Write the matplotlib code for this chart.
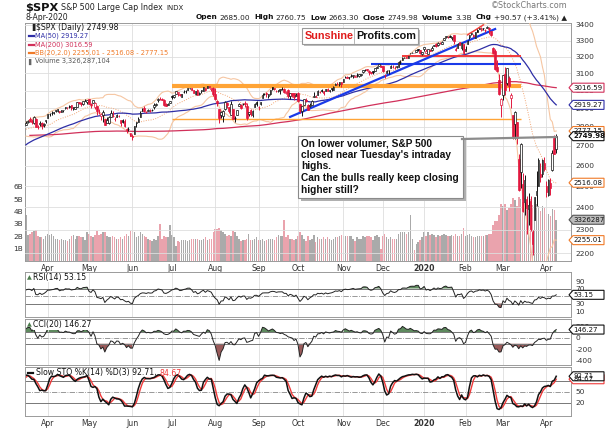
import numpy as np
import pandas as pd
import matplotlib
matplotlib.use("Agg")
import matplotlib.pyplot as plt
from matplotlib.patches import Polygon, Rectangle
from matplotlib.lines import Line2D
from matplotlib.ticker import NullLocator

plt.rcParams['font.family'] = ['DejaVu Sans']
W, H = 605, 428

# ---------------- data ----------------
holidays = ["2018-07-04", "2018-09-03", "2018-11-22", "2018-12-05", "2018-12-25",
            "2019-01-01", "2019-01-21", "2019-02-18", "2019-04-19", "2019-05-27",
            "2019-07-04", "2019-09-02", "2019-11-28", "2019-12-25", "2020-01-01",
            "2020-01-20", "2020-02-17"]
first_visible = "2019-03-15"

# daily closes (history needed for MA200 + visible window)
closes = [
    # Jun 2018
    2734.62, 2746.87, 2748.80, 2772.35, 2770.37, 2779.03, 2782.00, 2786.85, 2775.63, 2782.49, 2779.66,
    2773.75, 2762.59, 2767.32, 2749.76, 2754.88, 2717.07, 2723.06, 2699.63, 2716.31, 2718.37,
    # Jul 2018
    2726.71, 2713.22, 2736.61, 2759.82, 2784.17, 2793.84, 2774.02, 2798.29, 2801.31, 2798.43, 2809.55,
    2815.62, 2804.49, 2801.83, 2806.98, 2820.40, 2846.07, 2837.44, 2818.82, 2802.60, 2816.29,
    # Aug 2018
    2813.36, 2827.22, 2840.35, 2850.40, 2858.45, 2857.70, 2853.58, 2833.28, 2821.93, 2839.96, 2818.37,
    2840.69, 2850.13, 2857.05, 2862.96, 2861.82, 2856.98, 2874.69, 2896.74, 2897.52, 2914.04, 2901.13, 2901.52,
    # Sep 2018
    2896.72, 2888.60, 2878.05, 2871.68, 2877.13, 2887.89, 2888.92, 2904.18, 2904.98, 2888.80, 2904.31,
    2907.95, 2930.75, 2929.67, 2919.37, 2915.56, 2905.97, 2914.00, 2913.98,
    # Oct 2018
    2924.59, 2923.43, 2925.51, 2901.61, 2885.57, 2884.43, 2880.34, 2785.68, 2728.37, 2767.13, 2750.79,
    2809.92, 2809.21, 2768.78, 2767.78, 2755.88, 2740.69, 2656.10, 2705.57, 2658.69, 2641.25, 2682.63, 2711.74,
    # Nov 2018
    2740.37, 2723.06, 2738.31, 2755.45, 2813.89, 2806.83, 2781.01, 2726.22, 2722.18, 2701.58, 2730.20,
    2736.27, 2690.73, 2641.89, 2649.93, 2632.56, 2673.45, 2682.17, 2743.79, 2737.80, 2760.17,
    # Dec 2018
    2790.37, 2700.06, 2695.95, 2633.08, 2637.72, 2636.78, 2651.07, 2650.54, 2599.95, 2545.94, 2546.16,
    2506.96, 2467.42, 2416.62, 2351.10, 2467.70, 2488.83, 2485.74, 2506.85,
    # Jan 2019
    2510.03, 2447.89, 2531.94, 2549.69, 2574.41, 2584.96, 2596.64, 2596.26, 2582.61, 2610.30, 2616.10,
    2635.96, 2670.71, 2632.90, 2638.70, 2642.33, 2664.76, 2643.85, 2640.00, 2681.05, 2704.10,
    # Feb 2019
    2706.53, 2724.87, 2737.70, 2731.61, 2706.05, 2707.88, 2709.80, 2744.73, 2753.03, 2745.73, 2775.60,
    2779.76, 2784.70, 2774.88, 2792.67, 2796.11, 2793.90, 2792.38, 2784.49,
    # Mar 2019
    2803.69, 2792.81, 2789.65, 2771.45, 2748.93, 2743.07, 2783.30, 2791.52, 2810.92, 2808.48,
    2822.48, 2832.94, 2832.57, 2824.23, 2854.88, 2800.71, 2798.36, 2818.46, 2805.37, 2815.44, 2834.40,
    # Apr 2019
    2867.19, 2867.24, 2873.40, 2879.39, 2892.74, 2895.77, 2878.20, 2888.21, 2888.32, 2907.41, 2905.58,
    2907.06, 2900.45, 2905.03, 2907.97, 2933.68, 2927.25, 2926.17, 2939.88, 2943.03, 2945.83,
    # May 2019
    2923.73, 2917.52, 2945.64, 2932.47, 2884.05, 2879.42, 2870.72, 2881.40, 2811.87, 2834.41, 2850.96,
    2876.32, 2859.53, 2840.23, 2864.36, 2856.27, 2822.24, 2826.06, 2802.39, 2783.02, 2788.86, 2752.06,
    # Jun 2019
    2744.45, 2803.27, 2826.15, 2843.49, 2873.34, 2886.73, 2885.72, 2879.84, 2891.64, 2886.98, 2889.67,
    2917.75, 2926.46, 2954.18, 2950.46, 2945.35, 2917.38, 2913.78, 2924.92, 2941.76,
    # Jul 2019
    2964.33, 2973.01, 2995.82, 2990.41, 2975.95, 2979.63, 2993.07, 2999.91, 3013.77, 3014.30, 3004.04,
    2984.42, 2995.11, 2976.61, 2985.03, 3005.47, 3019.56, 3003.67, 3025.86, 3020.97, 3013.18, 2980.38,
    # Aug 2019
    2953.56, 2932.05, 2844.74, 2881.77, 2883.98, 2938.09, 2918.65, 2882.70, 2926.32, 2840.60, 2847.60,
    2888.68, 2923.65, 2900.51, 2924.43, 2922.95, 2847.11, 2878.38, 2869.16, 2887.94, 2924.58, 2926.46,
    # Sep 2019
    2906.27, 2937.78, 2976.00, 2978.71, 2978.43, 2979.39, 3000.93, 3009.57, 3007.39, 2997.96, 3005.70,
    3006.73, 3006.79, 2992.07, 2991.78, 2966.60, 2984.87, 2977.62, 2961.79, 2976.74,
    # Oct 2019
    2940.25, 2887.61, 2910.63, 2952.01, 2938.79, 2893.06, 2919.40, 2938.13, 2970.27, 2966.15, 2995.68,
    2989.69, 2997.95, 2986.20, 3006.72, 2995.99, 3004.52, 3010.29, 3022.55, 3039.42, 3036.89, 3046.77, 3037.56,
    # Nov 2019
    3066.91, 3078.27, 3074.62, 3076.78, 3085.18, 3093.08, 3087.01, 3091.84, 3094.04, 3096.63, 3120.46,
    3122.03, 3120.18, 3108.46, 3103.54, 3110.29, 3133.64, 3140.52, 3153.63, 3140.98,
    # Dec 2019
    3113.87, 3093.20, 3112.76, 3117.43, 3145.91, 3135.96, 3132.52, 3141.63, 3168.57, 3168.80, 3191.45,
    3192.52, 3191.14, 3205.37, 3221.22, 3224.01, 3223.38, 3239.91, 3240.02, 3221.29, 3230.78,
    # Jan 2020
    3257.85, 3234.85, 3246.28, 3237.18, 3253.05, 3274.70, 3265.35, 3288.13, 3283.15, 3289.29, 3316.81,
    3329.62, 3320.79, 3321.75, 3325.54, 3295.47, 3243.63, 3276.24, 3273.40, 3283.66, 3225.52,
    # Feb 2020
    3248.92, 3297.59, 3334.69, 3345.78, 3327.71, 3352.09, 3357.75, 3379.45, 3373.94, 3380.16, 3370.29,
    3386.15, 3373.23, 3337.75, 3225.89, 3128.21, 3116.39, 2978.76, 2954.22,
    # Mar 2020
    3090.23, 3003.37, 3130.12, 3023.94, 2972.37, 2746.56, 2882.23, 2741.38, 2480.64, 2711.02, 2386.13,
    2529.19, 2398.10, 2409.39, 2304.92, 2237.40, 2447.33, 2475.56, 2630.07, 2541.47, 2626.65, 2584.59,
    # Apr 2020
    2470.50, 2526.90, 2488.65, 2663.68, 2659.41, 2749.98,
]

# visible window (2019-03-15 .. 2020-04-08): open / high / low
opens = [
    2810, 2823, 2841, 2831, 2819, 2844, 2797, 2812, 2819, 2809, 2829,
    2849, 2869, 2877, 2873, 2884, 2888, 2886, 2881, 2891, 2900, 2908, 2912, 2916, 2904, 2898, 2910, 2934, 2928, 2925, 2940, 2938,
    2952, 2922, 2929, 2909, 2913, 2880, 2859, 2863, 2841, 2820, 2820, 2855, 2858, 2841, 2855, 2856, 2837, 2835, 2830, 2790, 2786, 2766,
    2752, 2763, 2818, 2828, 2852, 2885, 2903, 2882, 2886, 2886, 2889, 2906, 2920, 2949, 2952, 2951, 2949, 2926, 2919, 2932,
    2971, 2965, 2978, 2984, 2980, 2966, 2990, 2999, 3003, 3017, 3012, 3006, 2978, 3005, 2982, 2995, 2999, 3016, 3013, 3025, 3007, 3016,
    2981, 2943, 2898, 2862, 2858, 2897, 2930, 2907, 2865, 2895, 2846, 2865, 2913, 2919, 2922, 2931, 2912, 2867, 2893, 2862, 2910, 2938,
    2909, 2925, 2960, 2980, 2989, 2971, 2982, 3019, 3013, 2997, 2996, 3001, 3010, 3009, 2984, 3002, 2969, 2986, 2985, 2968,
    2984, 2925, 2885, 2918, 2945, 2920, 2911, 2918, 2964, 2966, 2973, 2990, 3001, 2996, 2997, 3011, 2995, 3015, 3004, 3033, 3036, 3039, 3047,
    3050, 3078, 3080, 3076, 3087, 3082, 3081, 3089, 3084, 3091, 3107, 3118, 3128, 3114, 3108, 3112, 3117, 3134, 3145, 3147,
    3143, 3088, 3103, 3120, 3134, 3141, 3135, 3136, 3141, 3167, 3183, 3195, 3196, 3193, 3223, 3226, 3225, 3227, 3248, 3240, 3215,
    3245, 3226, 3218, 3242, 3239, 3267, 3281, 3271, 3285, 3282, 3303, 3324, 3321, 3331, 3315, 3334, 3248, 3256, 3289, 3256, 3282,
    3236, 3281, 3325, 3344, 3335, 3319, 3366, 3371, 3365, 3378, 3370, 3381, 3380, 3360, 3257, 3238, 3139, 3063, 2916,
    2974, 3096, 3045, 3075, 2955, 2864, 2813, 2825, 2631, 2569, 2509, 2425, 2437, 2394, 2431, 2290, 2345, 2458, 2501, 2556, 2558, 2614,
    2499, 2458, 2515, 2579, 2738, 2685,
]
highs = [
    2830, 2835, 2852, 2843, 2860, 2846, 2809, 2829, 2826, 2820, 2836,
    2869, 2872, 2886, 2881, 2893, 2896, 2886, 2889, 2893, 2910, 2909, 2917, 2921, 2908, 2910, 2936, 2936, 2933, 2940, 2950, 2948,
    2954, 2932, 2948, 2938, 2913, 2898, 2875, 2892, 2841, 2852, 2858, 2892, 2885, 2853, 2868, 2865, 2837, 2841, 2841, 2792, 2800, 2768,
    2763, 2804, 2828, 2852, 2885, 2904, 2911, 2888, 2896, 2894, 2897, 2931, 2930, 2958, 2964, 2955, 2950, 2932, 2929, 2943,
    2977, 2974, 2996, 2994, 2981, 2981, 3002, 3003, 3014, 3017, 3015, 3006, 2996, 3007, 2990, 3005, 3019, 3016, 3028, 3027, 3017, 3018,
    3013, 2945, 2898, 2885, 2892, 2939, 2935, 2907, 2943, 2895, 2856, 2893, 2931, 2923, 2928, 2939, 2928, 2879, 2898, 2891, 2930, 2941,
    2915, 2938, 2985, 2985, 2990, 2980, 3001, 3022, 3017, 3002, 3006, 3008, 3022, 3016, 2999, 3008, 2989, 2987, 2987, 2984,
    2993, 2925, 2911, 2953, 2959, 2925, 2929, 2949, 2993, 2972, 3003, 2998, 3008, 3000, 3007, 3015, 3005, 3016, 3027, 3044, 3048, 3050, 3047,
    3067, 3085, 3084, 3079, 3098, 3093, 3088, 3103, 3098, 3098, 3121, 3125, 3128, 3119, 3110, 3112, 3134, 3142, 3154, 3151,
    3145, 3095, 3120, 3120, 3150, 3148, 3143, 3143, 3177, 3182, 3198, 3198, 3199, 3206, 3226, 3227, 3226, 3240, 3248, 3241, 3232,
    3258, 3247, 3247, 3245, 3268, 3275, 3283, 3289, 3294, 3299, 3317, 3330, 3329, 3337, 3326, 3334, 3259, 3285, 3293, 3285, 3282,
    3268, 3306, 3337, 3348, 3342, 3353, 3376, 3382, 3385, 3381, 3375, 3393, 3389, 3360, 3260, 3246, 3182, 3098, 2959,
    3091, 3137, 3131, 3084, 2985, 2864, 2883, 2825, 2660, 2712, 2563, 2553, 2453, 2467, 2454, 2300, 2450, 2571, 2638, 2615, 2631, 2641,
    2523, 2534, 2538, 2677, 2756, 2761,
]
lows = [
    2808, 2821, 2823, 2812, 2817, 2800, 2786, 2803, 2787, 2798, 2820,
    2849, 2859, 2865, 2867, 2882, 2880, 2873, 2879, 2881, 2898, 2897, 2901, 2891, 2891, 2896, 2909, 2926, 2912, 2917, 2940, 2925,
    2923, 2900, 2929, 2898, 2863, 2871, 2836, 2825, 2811, 2820, 2815, 2855, 2854, 2831, 2855, 2851, 2806, 2820, 2799, 2767, 2778, 2750,
    2729, 2763, 2801, 2823, 2852, 2884, 2878, 2874, 2884, 2879, 2887, 2899, 2912, 2933, 2947, 2944, 2911, 2912, 2918, 2929,
    2952, 2955, 2978, 2967, 2970, 2964, 2984, 2989, 3001, 3009, 3002, 2984, 2975, 2975, 2976, 2988, 2996, 2997, 3013, 3014, 3000, 2967,
    2945, 2914, 2822, 2848, 2825, 2891, 2900, 2874, 2865, 2839, 2825, 2865, 2913, 2899, 2917, 2905, 2834, 2857, 2860, 2853, 2910, 2914,
    2891, 2921, 2960, 2973, 2966, 2957, 2976, 3004, 3003, 2990, 2994, 2979, 3004, 2985, 2982, 2957, 2953, 2964, 2946, 2968,
    2938, 2874, 2856, 2918, 2936, 2892, 2907, 2917, 2963, 2963, 2973, 2986, 2991, 2976, 2995, 2995, 2991, 3000, 3002, 3032, 3034, 3026, 3023,
    3050, 3074, 3072, 3065, 3080, 3074, 3076, 3081, 3079, 3083, 3105, 3116, 3112, 3090, 3094, 3099, 3117, 3131, 3143, 3140,
    3110, 3070, 3103, 3099, 3134, 3135, 3126, 3133, 3138, 3156, 3182, 3191, 3191, 3191, 3216, 3222, 3221, 3227, 3235, 3215, 3213,
    3236, 3224, 3215, 3233, 3235, 3264, 3260, 3268, 3277, 3280, 3302, 3318, 3316, 3321, 3302, 3281, 3235, 3253, 3271, 3242, 3214,
    3236, 3281, 3313, 3335, 3322, 3317, 3356, 3371, 3360, 3367, 3356, 3379, 3342, 3328, 3214, 3118, 3108, 2977, 2855,
    2946, 2977, 3035, 2999, 2901, 2734, 2734, 2707, 2478, 2493, 2381, 2367, 2281, 2319, 2295, 2192, 2345, 2407, 2501, 2520, 2545, 2572,
    2447, 2455, 2459, 2575, 2657, 2663,
]
volumes_b = [
    3.7, 2.1, 2.2, 2.3, 2.4, 2.5, 2.0, 1.9, 1.9, 1.8, 2.0,
    2.2, 2.1, 2.2, 2.0, 1.8, 1.8, 1.7, 1.8, 1.7, 1.7, 1.6, 1.8, 2.0, 2.1, 1.8, 2.0, 2.0, 1.9, 1.9, 1.7, 2.3,
    2.2, 2.0, 1.9, 2.1, 2.4, 2.1, 2.2, 2.3, 2.3, 2.0, 1.9, 1.9, 2.0, 1.9, 1.8, 1.8, 1.9, 1.8, 2.0, 2.2, 2.0, 2.4,
    2.5, 2.3, 1.9, 2.0, 2.3, 2.2, 2.0, 1.9, 1.8, 1.7, 1.6, 1.8, 1.7, 2.0, 3.0, 1.8, 2.0, 1.9, 1.9, 2.9,
    2.1, 1.9, 1.2, 1.6, 1.5, 1.7, 1.7, 1.7, 1.6, 1.7, 1.8, 1.8, 1.8, 1.8, 1.7, 1.7, 1.8, 1.9, 1.7, 1.8, 1.8, 2.3,
    2.6, 2.6, 2.7, 2.5, 2.3, 2.2, 2.0, 2.1, 2.0, 2.4, 2.3, 2.0, 1.8, 1.6, 1.7, 1.7, 1.8, 2.2, 1.7, 1.7, 1.8, 1.9,
    1.7, 1.7, 1.8, 1.6, 1.7, 1.8, 1.8, 1.8, 1.7, 1.9, 2.1, 2.0, 2.0, 3.3, 1.9, 2.1, 1.8, 1.8, 1.7, 1.8,
    2.0, 2.3, 2.1, 1.8, 1.6, 2.0, 1.7, 1.8, 2.1, 1.5, 1.9, 1.8, 1.8, 1.9, 1.8, 1.9, 1.8, 1.7, 1.8, 1.9, 1.9, 2.0, 2.1,
    2.0, 2.0, 2.0, 2.0, 2.0, 1.8, 1.6, 1.9, 1.8, 1.8, 2.0, 1.9, 2.0, 2.0, 1.9, 1.7, 2.0, 2.1, 1.9, 1.0,
    2.0, 2.2, 1.9, 1.8, 1.9, 1.8, 1.8, 1.8, 2.2, 2.3, 2.3, 2.3, 2.2, 2.3, 3.7, 1.8, 0.9, 1.4, 1.5, 1.7, 1.9,
    2.3, 2.0, 2.3, 2.1, 2.2, 2.1, 1.9, 2.1, 2.0, 2.1, 2.2, 2.1, 2.0, 2.0, 2.1, 2.0, 2.2, 2.0, 2.0, 2.2, 2.7,
    2.0, 2.1, 2.2, 2.0, 1.9, 1.9, 2.0, 2.0, 2.0, 2.0, 2.1, 2.1, 2.2, 2.2, 2.9, 3.2, 3.2, 3.7, 4.6,
    4.4, 4.6, 4.1, 4.3, 4.6, 5.1, 4.9, 4.4, 5.2, 5.0, 4.8, 5.1, 4.9, 4.5, 5.0, 4.5, 4.8, 4.6, 4.4, 4.0, 4.4, 4.3,
    3.8, 3.8, 3.6, 4.2, 4.1, 3.33,
]

price_ticks = [2200, 2300, 2400, 2500, 2600, 2700, 2800, 2900, 3000, 3100, 3200, 3300, 3400]
vol_ticks = [1, 2, 3, 4, 5, 6]
month_labels = ["Apr", "May", "Jun", "Jul", "Aug", "Sep", "Oct", "Nov", "Dec", "2020", "Feb", "Mar", "Apr"]

# hand-drawn annotation levels: (start, end, price)
orange_thick = ("2019-07-01", "2020-03-13", 3027)
orange_thin = ("2019-07-01", "2020-03-13", 2840)
blue_level = ("2019-11-21", "2020-03-13", 3156)
red_level = ("2019-12-16", "2020-03-13", 3203)
blue_trend = [("2019-09-25", 2853), ("2020-02-25", 3374)]
red_trend = [("2020-02-04", 3336), ("2020-02-14", 3400)]

# legend / label values shown on chart
last_close, ma50_last, ma200_last = 2749.98, 2919.27, 3016.59
bb_lo_last, bb_mid_last, bb_up_last = 2255.01, 2516.08, 2777.15
vol_last = 3.326287104
rsi_last, cci_last, stok_last, stod_last = 53.15, 146.27, 92.71, 84.67

# ---------------- computations ----------------
days = pd.bdate_range("2018-06-01", "2020-04-08")
days = days[~days.isin(pd.to_datetime(holidays))]
assert len(days) == len(closes), (len(days), len(closes))
i0 = int(np.where(days == pd.Timestamp(first_visible))[0][0])
nvis = len(closes) - i0
assert len(opens) == nvis and len(highs) == nvis and len(lows) == nvis and len(volumes_b) == nvis

c_all = pd.Series(closes, dtype=float)
h_all = pd.Series(list(closes[:i0]) + highs, dtype=float)
l_all = pd.Series(list(closes[:i0]) + lows, dtype=float)

ma50 = c_all.rolling(50).mean()
ma200 = c_all.rolling(200).mean()
bb_mid = c_all.rolling(20).mean()
bb_sd = c_all.rolling(20).std(ddof=0)
bb_up = bb_mid + 2 * bb_sd
bb_lo = bb_mid - 2 * bb_sd

dlt = c_all.diff()
ag = dlt.clip(lower=0).ewm(alpha=1 / 14, adjust=False).mean()
al = (-dlt.clip(upper=0)).ewm(alpha=1 / 14, adjust=False).mean()
rsi = 100 - 100 / (1 + ag / al)

tp = (h_all + l_all + c_all) / 3
tp_sma = tp.rolling(20).mean()
tp_md = tp.rolling(20).apply(lambda v: np.mean(np.abs(v - v.mean())), raw=True)
cci = (tp - tp_sma) / (0.015 * tp_md)

ll = l_all.rolling(14).min()
hh = h_all.rolling(14).max()
fk = 100 * (c_all - ll) / (hh - ll)
slow_k = fk.rolling(3).mean()
slow_d = slow_k.rolling(3).mean()

vis = slice(i0, None)
x = np.arange(nvis)
vdays = days[i0:]
C = c_all.values[vis]
O = np.array(opens, float)
Hh = np.array(highs, float)
Ll = np.array(lows, float)
prevC = c_all.values[i0 - 1:-1]
down = C < prevC

def didx(s):
    return int(np.where(vdays == pd.Timestamp(s))[0][0])

# month starts
mstarts = []
for k in range(1, nvis):
    if vdays[k].month != vdays[k - 1].month:
        mstarts.append(k)

# ---------------- figure ----------------
fig = plt.figure(figsize=(W / 100, H / 100), dpi=100)

def frect(l, t, r, b):
    return [l / W, 1 - b / H, (r - l) / W, (b - t) / H]

XL = (-0.5, nvis + 6.5)
GRID = '#dedede'
SPINE = '#9a9a9a'
TXT = '#333333'

axv = fig.add_axes(frect(25, 23, 571, 261))
ax = fig.add_axes(frect(25, 23, 571, 261), sharex=axv)
ax.patch.set_visible(False)

# volume
vcol = np.where(down, '#eaa3ad', '#aaaaaa')
axv.bar(x, volumes_b, width=0.75, color=vcol, linewidth=0)
axv.set_ylim(0, 19.2)
axv.set_xlim(*XL)
axv.yaxis.tick_left()
axv.set_yticks(vol_ticks)
axv.set_yticklabels([f"{v}B" for v in vol_ticks])
axv.set_xticks(mstarts)
axv.set_xticklabels(month_labels)
axv.tick_params(axis='both', length=0, labelsize=5.6, colors=TXT, pad=2)
axv.tick_params(axis='y', pad=1.5, labelsize=5.3)
for t in axv.get_xticklabels():
    if t.get_text() == "2020":
        t.set_fontweight('bold')
axv.grid(axis='x', color=GRID, lw=0.6)
for s in axv.spines.values():
    s.set_color(SPINE); s.set_linewidth(0.7)

# price
ax.set_yscale('log')
ax.set_ylim(2167, 3413)
ax.yaxis.tick_right()
ax.set_yticks(price_ticks)
ax.set_yticklabels([str(p) for p in price_ticks])
ax.yaxis.set_minor_locator(NullLocator())
ax.tick_params(axis='y', length=0, labelsize=5.4, colors=TXT, pad=3)
ax.tick_params(axis='x', length=0, labelbottom=False)
ax.grid(axis='y', color=GRID, lw=0.6)
ax.set_axisbelow(True)
for s in ax.spines.values():
    s.set_visible(False)

# bollinger + MAs
ax.plot(x, bb_up.values[vis], color='#f6c6a2', lw=0.8)
ax.plot(x, bb_lo.values[vis], color='#f6c6a2', lw=0.8)
ax.plot(x, bb_mid.values[vis], color='#f2a878', lw=0.7, ls=(0, (1, 1.5)))
ax.plot(x, ma200.values[vis], color='#d1305a', lw=0.9)
ax.plot(x, ma50.values[vis], color='#2e2ea6', lw=0.9)

# annotation lines
for (a, b, p), col, lw in [(orange_thick, '#ffa436', 3.0), (orange_thin, '#ffa436', 1.0),
                            (blue_level, '#1a3ae8', 1.5), (red_level, '#f23a3a', 1.4)]:
    ax.plot([didx(a), didx(b)], [p, p], color=col, lw=lw, solid_capstyle='butt', zorder=3)
ax.plot([didx(blue_trend[0][0]), didx(blue_trend[1][0])], [blue_trend[0][1], blue_trend[1][1]],
        color='#1a3ae8', lw=1.6, zorder=3)
ax.plot([didx(red_trend[0][0]), didx(red_trend[1][0])], [red_trend[0][1], red_trend[1][1]],
        color='#f23a3a', lw=1.0, zorder=3)

# candles
ccol = np.where(down, '#e2183e', '#111111')
ax.vlines(x, Ll, Hh, colors=ccol, lw=0.7, zorder=4)
blo = np.minimum(O, C)
bhi = np.maximum(O, C)
face = np.where(C > O, 'white', ccol)
ax.bar(x, bhi - blo, bottom=blo, width=0.8, color=face, edgecolor=ccol, linewidth=0.5, zorder=5)
ax.set_xlim(*XL)

# ---------------- indicator panels ----------------
def panel(t, b, ylim, ticks, labels, show_x=False):
    a = fig.add_axes(frect(25, t, 571, b), sharex=axv)
    a.set_ylim(*ylim)
    a.yaxis.tick_right()
    a.set_yticks(ticks)
    a.set_yticklabels(labels)
    a.tick_params(axis='both', length=0, labelsize=5.4, colors=TXT, pad=3)
    a.tick_params(axis='x', labelbottom=show_x, pad=2, labelsize=5.6)
    a.grid(axis='x', color=GRID, lw=0.6)
    for s in a.spines.values():
        s.set_color(SPINE); s.set_linewidth(0.7)
    a.set_xlim(*XL)
    return a

GREEN = '#5e8a5e'
BROWN = '#9a5a5a'
LVL = '#777777'

a1 = panel(272, 317, (-6, 114), [90, 70, 30, 10], ["90", "70", "30", "10"])
r = rsi.values[vis]
a1.fill_between(x, r, 70, where=r > 70, color=GREEN, lw=0, interpolate=True)
a1.fill_between(x, r, 30, where=r < 30, color=BROWN, lw=0, interpolate=True)
a1.axhline(70, color=LVL, lw=0.7); a1.axhline(30, color=LVL, lw=0.7)
a1.axhline(50, color='#888888', lw=0.6, ls='-.')
a1.plot(x, r, color='#222222', lw=0.7)

a2 = panel(319, 365, (-470, 330), [200, 0, -200, -400], ["200", "0", "-200", "-400"])
cc = cci.values[vis]
a2.fill_between(x, cc, 100, where=cc > 100, color=GREEN, lw=0, interpolate=True)
a2.fill_between(x, cc, -100, where=cc < -100, color=BROWN, lw=0, interpolate=True)
a2.axhline(100, color=LVL, lw=0.7); a2.axhline(-100, color=LVL, lw=0.7)
a2.axhline(0, color='#888888', lw=0.6, ls='-.')
a2.plot(x, cc, color='#222222', lw=0.7)

a3 = panel(367, 416, (-15.5, 118), [80, 50, 20], ["80", "50", "20"], show_x=True)
a3.axhline(80, color=LVL, lw=0.7); a3.axhline(20, color=LVL, lw=0.7)
a3.axhline(50, color='#888888', lw=0.6, ls='-.')
a3.plot(x, slow_d.values[vis], color='#f03a3a', lw=1.0)
a3.plot(x, slow_k.values[vis], color='#111111', lw=1.1)
for t in a3.get_xticklabels():
    if t.get_text() == "2020":
        t.set_fontweight('bold')

# ---------------- texts ----------------
renderer = fig.canvas.get_renderer()

def fx(px):
    return px / W

def fy(py):
    return 1 - py / H

def seq(xp, yp, pieces, ha='left'):
    arts, widths = [], []
    for txt, kw, gap in pieces:
        t = fig.text(0, 0, txt, va='center', ha='left', **kw)
        widths.append(t.get_window_extent(renderer).width + gap)
        arts.append(t)
    cur = xp - sum(widths) if ha == 'right' else xp
    for t, w in zip(arts, widths):
        t.set_position((fx(cur), fy(yp)))
        cur += w

seq(25, 8, [("$SPX", dict(fontsize=8.2, fontweight='bold', color='#111'), 3),
            ("S&P 500 Large Cap Index", dict(fontsize=5.8, color='#222'), 3),
            ("INDX", dict(fontsize=5.0, color='#222'), 0)])
fig.text(fx(25), fy(17.5), "8-Apr-2020", fontsize=5.6, color='#222', va='center')
fig.text(fx(568), fy(6), "\u00a9StockCharts.com", fontsize=5.8, color='#777', va='center', ha='right')
B = dict(fontsize=5.3, fontweight='bold', color='#111')
R = dict(fontsize=5.3, color='#222')
seq(567, 17.5, [("Open", B, 2), ("2685.00", R, 4), ("High", B, 2), ("2760.75", R, 4),
                ("Low", B, 2), ("2663.30", R, 4), ("Close", B, 2), ("2749.98", R, 4),
                ("Volume", B, 2), ("3.3B", R, 4), ("Chg", B, 2), ("+90.57 (+3.41%) \u25b2", R, 0)],
    ha='right')

# main legend
fig.text(fx(29), fy(27.5), "\u2590", fontsize=5, color='#222', va='center')
fig.text(fx(36), fy(27.5), f"$SPX (Daily) {last_close:.2f}", fontsize=5.6, color='#111', va='center')
legend_rows = [(36, f"MA(50) {ma50_last:.2f}", '#2e2ea6'),
               (44.5, f"MA(200) {ma200_last:.2f}", '#d1305a'),
               (53, f"BB(20,2.0) {bb_lo_last:.2f} - {bb_mid_last:.2f} - {bb_up_last:.2f}", '#f07a28')]
for yy, t, col in legend_rows:
    fig.add_artist(Line2D([fx(28.5), fx(33.5)], [fy(yy), fy(yy)], color=col, lw=1.6))
    fig.text(fx(35), fy(yy), t, fontsize=4.8, color=col, va='center')
fig.text(fx(28.5), fy(61.5), "\u258c", fontsize=4.5, color='#666', va='center')
fig.text(fx(35), fy(61.5), "Volume 3,326,287,104", fontsize=4.8, color='#555', va='center')

# indicator labels
fig.text(fx(27), fy(277.5), "\u25b2", fontsize=4.5, color='#4a7a4a', va='center')
fig.text(fx(33), fy(277.5), f"RSI(14) {rsi_last:.2f}", fontsize=5.6, color='#111', va='center',
         bbox=dict(facecolor='white', edgecolor='none', pad=0.3))
fig.text(fx(27), fy(325), "\u25b2", fontsize=4.5, color='#4a7a4a', va='center')
fig.text(fx(33), fy(325), f"CCI(20) {cci_last:.2f}", fontsize=5.6, color='#111', va='center',
         bbox=dict(facecolor='white', edgecolor='none', pad=0.3))
fig.add_artist(Line2D([fx(27.5), fx(33)], [fy(373), fy(373)], color='#111', lw=1.6))
seq(36, 373, [(f"Slow STO %K(14) %D(3) {stok_last:.2f},", dict(fontsize=5.6, color='#111'), 2.5),
              (f"{stod_last:.2f}", dict(fontsize=5.6, color='#f03a3a'), 0)])

# right-side value tags
def ypix(a, v):
    return H - a.transData.transform((0, v))[1]

def tag(yp, text, ec, fc='white', tc='#111', bold=False, w=35):
    x0, hh = 569, 9.0
    pts = [(x0, yp), (x0 + 4, yp - hh / 2), (x0 + w, yp - hh / 2), (x0 + w, yp + hh / 2), (x0 + 4, yp + hh / 2)]
    fig.add_artist(Polygon([(fx(px), fy(py)) for px, py in pts], closed=True,
                           transform=fig.transFigure, facecolor=fc, edgecolor=ec, lw=0.8))
    fig.text(fx(x0 + 4.5), fy(yp), text, fontsize=5.0, color=tc, va='center', ha='left',
             fontweight='bold' if bold else 'normal')

tag(ypix(ax, ma200_last), f"{ma200_last:.2f}", '#d1305a')
tag(ypix(ax, ma50_last), f"{ma50_last:.2f}", '#2e2ea6')
tag(ypix(ax, bb_up_last), f"{bb_up_last:.2f}", '#f07a28')
tag(ypix(ax, last_close), f"{last_close:.2f}", '#111111', bold=True)
tag(ypix(ax, bb_mid_last), f"{bb_mid_last:.2f}", '#f07a28')
tag(ypix(axv, vol_last), "3326287", '#555555', fc='#bdbdbd')
tag(ypix(ax, bb_lo_last), f"{bb_lo_last:.2f}", '#f07a28')
tag(ypix(a1, rsi_last), f"{rsi_last:.2f}", '#111111')
tag(ypix(a2, cci_last), f"{cci_last:.2f}", '#111111')
tag(ypix(a3, stod_last), f"{stod_last:.2f}", '#f03a3a')
tag(ypix(a3, stok_last), f"{stok_last:.2f}", '#111111')

# callout pointer line
fig.add_artist(Line2D([fx(462), fx(556)], [fy(139), fy(137)], color='#8c8c8c', lw=1.6))
# callout box
fig.add_artist(Rectangle((fx(301), fy(201)), (463 - 298) / W, (198 - 136) / H,
                         transform=fig.transFigure, facecolor='#b0b0b0', edgecolor='none'))
fig.add_artist(Rectangle((fx(298), fy(198)), (463 - 298) / W, (198 - 136) / H,
                         transform=fig.transFigure, facecolor='white', edgecolor='#8a8a8a', lw=0.8))
callout = ["On lower volumer, S&P 500", "closed near Tuesday's intraday", "highs.",
           "Can the bulls really keep closing", "higher still?"]
for k, line in enumerate(callout):
    fig.text(fx(301), fy(143 + k * 11.7), line, fontsize=7.3, fontweight='bold',
             family='Liberation Sans', color='#111', va='center')

# logo
fig.add_artist(Rectangle((fx(304), fy(46)), (418 - 302) / W, (44 - 28) / H,
                         transform=fig.transFigure, facecolor='#bbbbbb', edgecolor='none'))
fig.add_artist(Rectangle((fx(302), fy(44)), (418 - 302) / W, (44 - 28) / H,
                         transform=fig.transFigure, facecolor='white', edgecolor='#999999', lw=0.8))
seq(304.5, 36, [("Sunshine", dict(fontsize=7.8, fontweight='bold', family='Liberation Sans', color='#e01b1b'), 2.5),
                ("Profits.com", dict(fontsize=7.8, fontweight='bold', family='Liberation Sans', color='#111'), 0)])
fig.add_artist(Line2D([fx(353.5), fx(353.5)], [fy(29), fy(43)], color='#aaaaaa', lw=0.6))

fig.savefig("out.png", dpi=100)
